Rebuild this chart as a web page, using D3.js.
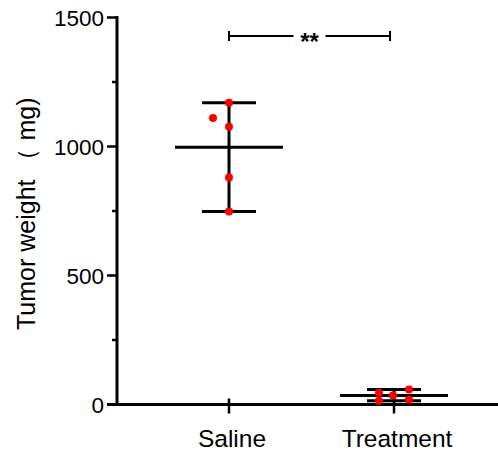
<!DOCTYPE html>
<html>
<head>
<meta charset="utf-8">
<script src="https://cdn.jsdelivr.net/npm/d3@7"></script>
<style>
  body { margin: 0; background: #fff; }
  svg { display: block; }
  text { font-family: "Liberation Sans", Arial, Helvetica, sans-serif; }
</style>
</head>
<body>
<svg id="chart" width="498" height="455"></svg>
<script>
// ---- data ----
const categories = ["Saline", "Treatment"];
const salineValues = [1170, 1110, 1077, 880, 748];
const treatmentValues = [46, 15, 35, 58, 19];
const yTickValues = [0, 500, 1000, 1500];
const yMinorTickValues = [250, 750, 1250];
const yLabel = "Tumor weight （ mg)";
const significance = "**";

// ---- layout (not data) ----
const jitter = { Saline: [0, -16, 0, 0, 0], Treatment: [-15, -15, -1, 15, 15] };
const plotLeft = 117, plotRight = 498, plotTop = 17.5, plotBottom = 404.5;

const svg = d3.select("#chart");
const x = d3.scalePoint().domain(categories).range([229, 394]);
const y = d3.scaleLinear().domain([0, 1500]).range([plotBottom, plotTop]);

const groups = [
  { name: "Saline", values: salineValues },
  { name: "Treatment", values: treatmentValues }
];

// axes
svg.append("line").attr("x1", plotLeft).attr("x2", plotLeft).attr("y1", y(1500) - 1.5).attr("y2", plotBottom)
  .attr("stroke", "#000").attr("stroke-width", 3);
svg.append("line").attr("x1", plotLeft - 10).attr("x2", plotRight).attr("y1", plotBottom).attr("y2", plotBottom)
  .attr("stroke", "#000").attr("stroke-width", 3);

// y ticks
svg.selectAll(".ytick").data(yTickValues).enter().append("line")
  .attr("x1", plotLeft - 10).attr("x2", plotLeft).attr("y1", d => y(d)).attr("y2", d => y(d))
  .attr("stroke", "#000").attr("stroke-width", 2.5);
svg.selectAll(".yminor").data(yMinorTickValues).enter().append("line")
  .attr("x1", plotLeft - 5).attr("x2", plotLeft).attr("y1", d => y(d)).attr("y2", d => y(d))
  .attr("stroke", "#000").attr("stroke-width", 2.5);
svg.selectAll(".ylab").data(yTickValues).enter().append("text")
  .attr("x", plotLeft - 13).attr("y", d => y(d)).attr("dy", "0.36em")
  .attr("text-anchor", "end").attr("font-size", 22.5).attr("fill", "#000")
  .text(d => d);

// x ticks
svg.selectAll(".xtick").data(categories).enter().append("line")
  .attr("x1", d => x(d)).attr("x2", d => x(d)).attr("y1", plotBottom - 6).attr("y2", plotBottom + 9)
  .attr("stroke", "#000").attr("stroke-width", 2.5);
svg.selectAll(".xlab").data(categories).enter().append("text")
  .attr("x", d => x(d) + 3).attr("y", 447)
  .attr("text-anchor", "middle").attr("font-size", 24.5).attr("fill", "#000")
  .text(d => d);

// y label
svg.append("text")
  .attr("transform", "translate(35,330) rotate(-90)")
  .attr("text-anchor", "start").attr("font-size", 25).attr("fill", "#000")
  .text(yLabel);

// mean and range bars
groups.forEach(g => {
  const cx = x(g.name);
  const mean = d3.mean(g.values);
  const [mn, mx] = d3.extent(g.values);
  const gg = svg.append("g");
  gg.append("line").attr("x1", cx).attr("x2", cx).attr("y1", y(mx)).attr("y2", y(mn))
    .attr("stroke", "#000").attr("stroke-width", 3);
  [mn, mx].forEach(v => {
    gg.append("line").attr("x1", cx - 27).attr("x2", cx + 27).attr("y1", y(v)).attr("y2", y(v))
      .attr("stroke", "#000").attr("stroke-width", 3);
  });
  gg.append("line").attr("x1", cx - 54).attr("x2", cx + 54).attr("y1", y(mean)).attr("y2", y(mean))
    .attr("stroke", "#000").attr("stroke-width", 3);
});

// points
groups.forEach(g => {
  svg.selectAll(".pt-" + g.name).data(g.values).enter().append("circle")
    .attr("cx", (d, i) => x(g.name) + jitter[g.name][i])
    .attr("cy", d => y(d))
    .attr("r", 4)
    .attr("fill", "#f00");
});

// significance bracket
const bx1 = x("Saline"), bx2 = x("Treatment") - 4, by = 36;
const mid = (bx1 + bx2) / 2;
const br = svg.append("g").attr("stroke", "#000").attr("stroke-width", 2);
br.append("line").attr("x1", bx1).attr("x2", mid - 16).attr("y1", by).attr("y2", by);
br.append("line").attr("x1", mid + 16).attr("x2", bx2).attr("y1", by).attr("y2", by);
br.append("line").attr("x1", bx1).attr("x2", bx1).attr("y1", by - 5).attr("y2", by + 5);
br.append("line").attr("x1", bx2).attr("x2", bx2).attr("y1", by - 5).attr("y2", by + 5);
svg.append("text").attr("x", mid).attr("y", by + 14)
  .attr("text-anchor", "middle").attr("font-size", 24).attr("font-weight", "bold")
  .attr("fill", "#000").text(significance);
</script>
</body>
</html>
